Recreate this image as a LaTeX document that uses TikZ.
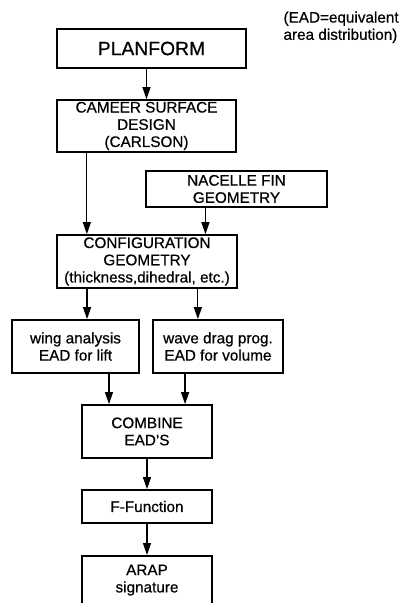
\documentclass[tikz,border=0pt]{standalone}
\usepackage{fontspec}
\setmainfont{Liberation Sans}[FakeBold=0.6]
\usetikzlibrary{calc,positioning,arrows.meta}

\begin{document}
\begin{tikzpicture}[
    x=0.02cm, y=-0.02cm,
    font=\fontsize{8.7}{9.8}\selectfont,
    >={Triangle[length=2.4mm,width=1.6mm]},
    line width=0.6pt,
    box/.style={draw, line width=1pt, align=center, inner sep=1pt},
    flow/.style={->, line width=0.7pt}
  ]
  % page
  \useasboundingbox (0,0) rectangle (405,603);
  \clip (0,0) rectangle (405,603);

  % note
  \node[anchor=north west, align=left, inner sep=0pt] (note) at (283,11)
    {(EAD=equivalent\\area distribution)};

  % boxes
  \node[box, minimum width=3.78cm, minimum height=0.78cm,
        font=\fontsize{11}{12}\selectfont] (plan) at (151.5,48.5) {PLANFORM};
  \node[box, minimum width=3.58cm, minimum height=1.04cm] (camber) at (146.5,126)
    {CAMEER SURFACE\\DESIGN\\(CARLSON)};
  \node[box, minimum width=3.62cm, minimum height=0.72cm] (nacelle) at (236.5,189)
    {NACELLE FIN\\GEOMETRY};
  \node[box, minimum width=3.6cm, minimum height=1.06cm] (config) at (147,261.5)
    {CONFIGURATION\\GEOMETRY\\(thickness,dihedral, etc.)};
  \node[box, minimum width=2.54cm, minimum height=1.06cm] (wing) at (75.5,346.5)
    {wing analysis\\EAD for lift};
  \node[box, minimum width=2.6cm, minimum height=1.06cm] (wave) at (218,346.5)
    {wave drag prog.\\EAD for volume};
  \node[box, minimum width=2.6cm, minimum height=1.06cm] (combine) at (147,431.5)
    {COMBINE\\EAD'S};
  \node[box, minimum width=2.6cm, minimum height=0.66cm] (ffunc) at (147,506.5)
    {F-Function};
  \node[box, minimum width=2.6cm, anchor=north, inner ysep=5pt, text depth=0.75cm]
    (arap) at (147,555) {ARAP\\signature};

  % connectors
  \draw[flow] (plan.south -| camber.north) -- (camber.north);
  \coordinate (c1) at ($(camber.south west)!0.17!(camber.south east)$);
  \draw[flow] (c1) -- (c1 |- config.north);
  \coordinate (n1) at ($(nacelle.south west)!0.33!(nacelle.south east)$);
  \draw[flow] (n1) -- (n1 |- config.north);
  \coordinate (g1) at ($(config.south west)!0.17!(config.south east)$);
  \coordinate (g2) at ($(config.south west)!0.78!(config.south east)$);
  \draw[flow] (g1) -- (g1 |- wing.north);
  \draw[flow] (g2) -- (g2 |- wave.north);
  \coordinate (w1) at ($(wing.south west)!0.76!(wing.south east)$);
  \coordinate (v1) at ($(wave.south west)!0.25!(wave.south east)$);
  \draw[flow] (w1) -- (w1 |- combine.north);
  \draw[flow] (v1) -- (v1 |- combine.north);
  \draw[flow] (combine) -- (ffunc);
  \draw[flow] (ffunc) -- (arap);
\end{tikzpicture}
\end{document}
